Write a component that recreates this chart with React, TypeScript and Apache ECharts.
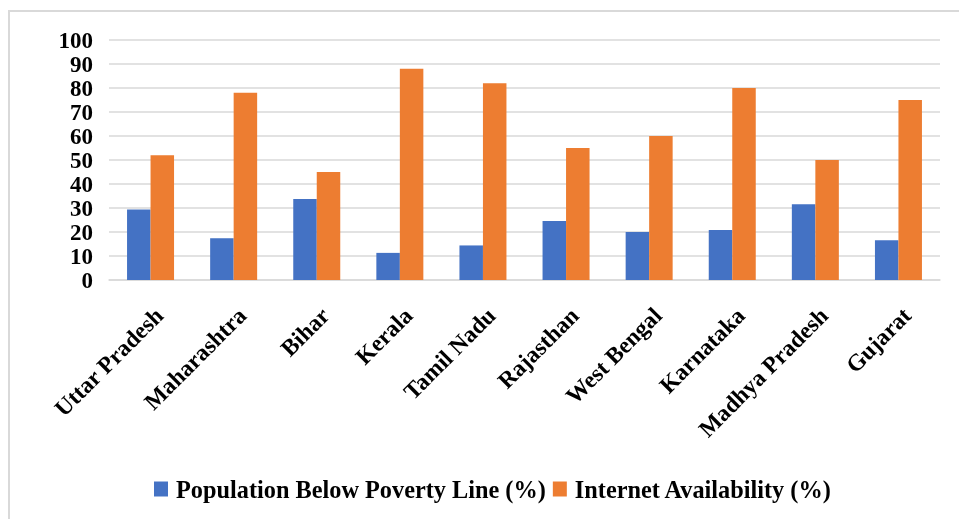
import React, { useEffect, useRef } from "react";
import * as echarts from "echarts";

const states = [
  "Uttar Pradesh",
  "Maharashtra",
  "Bihar",
  "Kerala",
  "Tamil Nadu",
  "Rajasthan",
  "West Bengal",
  "Karnataka",
  "Madhya Pradesh",
  "Gujarat",
];
const povertyValues = [29.4, 17.4, 33.7, 11.3, 14.4, 24.6, 20.0, 20.8, 31.6, 16.6];
const internetValues = [52, 78, 45, 88, 82, 55, 60, 80, 50, 75];
const seriesNames = ["Population Below Poverty Line (%)", "Internet Availability (%)"];

const FONT = "'Times New Roman', 'Liberation Serif', serif";

export default function App() {
  const ref = useRef<HTMLDivElement>(null);
  useEffect(() => {
    if (!ref.current) return;
    const chart = echarts.init(ref.current, undefined, { renderer: "svg" });
    chart.setOption({
      animation: false,
      backgroundColor: "transparent",
      grid: { left: 109, right: 19, top: 40, bottom: 239, containLabel: false },
      legend: {
        top: 472,
        left: 149,
        itemWidth: 14,
        itemHeight: 15,
        itemGap: 7,
        icon: "rect",
        textStyle: { fontFamily: FONT, fontWeight: "bold", fontSize: 24.3, color: "#000", padding: [0, 0, 0, 3] },
        data: seriesNames,
      },
      xAxis: {
        type: "category",
        data: states,
        axisLine: { lineStyle: { color: "#d9d9d9", width: 1.5 } },
        axisTick: { show: false },
        axisLabel: {
          rotate: 45,
          interval: 0,
          margin: 23,
          verticalAlign: "top",
          fontFamily: FONT,
          fontWeight: "bold",
          fontSize: 23.5,
          color: "#000",
        },
      },
      yAxis: {
        type: "value",
        min: 0,
        max: 100,
        interval: 10,
        axisLine: { show: false },
        axisTick: { show: false },
        splitLine: { lineStyle: { color: "#d9d9d9", width: 1.5 } },
        axisLabel: {
          margin: 16,
          fontFamily: FONT,
          fontWeight: "bold",
          fontSize: 23,
          color: "#000",
        },
      },
      series: [
        {
          name: seriesNames[0],
          type: "bar",
          data: povertyValues,
          barWidth: 23.5,
          barGap: "0%",
          itemStyle: { color: "#4472C4" },
        },
        {
          name: seriesNames[1],
          type: "bar",
          data: internetValues,
          barWidth: 23.5,
          barGap: "0%",
          itemStyle: { color: "#ED7D31" },
        },
      ],
    });
    return () => chart.dispose();
  }, []);
  return (
    <>
      <div
        style={{
          position: "fixed",
          left: 8,
          top: 10,
          width: 951,
          height: 509,
          borderLeft: "2px solid #d9d9d9",
          borderTop: "2px solid #d9d9d9",
          boxSizing: "border-box",
        }}
      />
      <div ref={ref} style={{ position: "fixed", left: 0, top: 0, width: 959, height: 519 }} />
    </>
  );
}
